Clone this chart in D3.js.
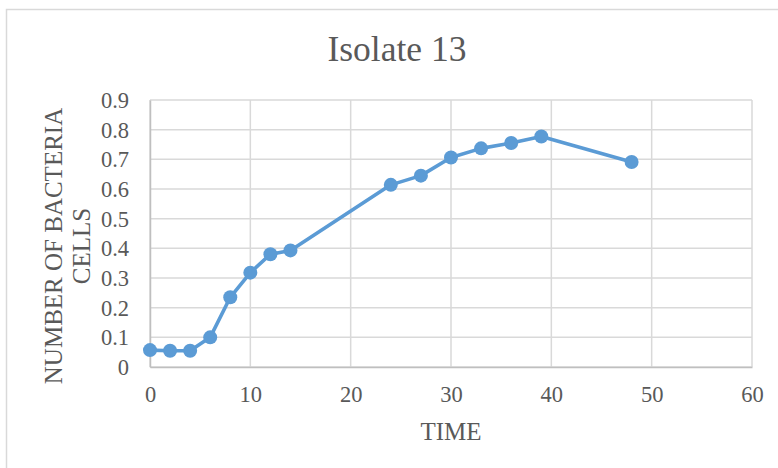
<!DOCTYPE html>
<html>
<head>
<meta charset="utf-8">
<script src="https://cdn.jsdelivr.net/npm/d3@7"></script>
<style>
  html, body { margin: 0; padding: 0; background: #fff; }
  svg { display: block; }
  text { font-family: "Liberation Serif", "Times New Roman", serif; fill: #595959; }
</style>
</head>
<body>
<svg id="chart" width="778" height="468"></svg>
<script>
// Growth readings for isolate 13
const timePoints = [0, 2, 4, 6, 8, 10, 12, 14, 24, 27, 30, 33, 36, 39, 48];
const cellCounts = [0.057, 0.055, 0.055, 0.10, 0.235, 0.318, 0.38, 0.393, 0.614, 0.645, 0.706, 0.737, 0.755, 0.777, 0.691];
const xTicks = [0, 10, 20, 30, 40, 50, 60];
const yTicks = [0, 0.1, 0.2, 0.3, 0.4, 0.5, 0.6, 0.7, 0.8, 0.9];

const chartTitle = "Isolate 13";
const xTitle = "TIME";
const yTitleLines = ["NUMBER OF BACTERIA", "CELLS"];

const svg = d3.select("#chart");
const W = 778, H = 468;
const plot = { left: 150, right: 752, top: 100, bottom: 367 };

// Outer chart frame
svg.append("rect")
  .attr("x", 6.5).attr("y", 9.5)
  .attr("width", W + 10).attr("height", H + 10)
  .attr("fill", "#fff")
  .attr("stroke", "#d9d9d9")
  .attr("stroke-width", 1.5);

const x = d3.scaleLinear().domain([0, 60]).range([plot.left, plot.right]);
const y = d3.scaleLinear().domain([0, 0.9]).range([plot.bottom, plot.top]);

// Gridlines
const grid = svg.append("g");
grid.selectAll("line.h").data(yTicks).join("line")
  .attr("class", "h")
  .attr("x1", plot.left).attr("x2", plot.right)
  .attr("y1", d => y(d)).attr("y2", d => y(d))
  .attr("stroke", "#d9d9d9").attr("stroke-width", 1.5);
grid.selectAll("line.v").data(xTicks).join("line")
  .attr("class", "v")
  .attr("y1", plot.top).attr("y2", plot.bottom)
  .attr("x1", d => x(d)).attr("x2", d => x(d))
  .attr("stroke", "#d9d9d9").attr("stroke-width", 1.5);

// Axes
const xAxis = svg.append("g")
  .attr("transform", `translate(0,${plot.bottom})`)
  .call(d3.axisBottom(x).tickValues(xTicks).tickSize(0).tickPadding(0).tickFormat(d3.format("d")));
xAxis.select(".domain").attr("stroke", "#bfbfbf").attr("stroke-width", 1.5);
xAxis.selectAll("text")
  .attr("dy", null).attr("y", 35)
  .attr("font-size", 22.5)
  .attr("fill", "#595959")
  .attr("font-family", "Liberation Serif, Times New Roman, serif");

const yAxis = svg.append("g")
  .attr("transform", `translate(${plot.left},0)`)
  .call(d3.axisLeft(y).tickValues(yTicks).tickSize(0).tickPadding(0).tickFormat(d => d === 0 ? "0" : d3.format(".1f")(d)));
yAxis.select(".domain").attr("stroke", "#bfbfbf").attr("stroke-width", 1.5);
yAxis.selectAll("text")
  .attr("x", -21).attr("dy", "0.34em")
  .attr("font-size", 22.5)
  .attr("fill", "#595959")
  .attr("font-family", "Liberation Serif, Times New Roman, serif");

// Series line and markers
const pts = timePoints.map((t, i) => [t, cellCounts[i]]);
svg.append("path")
  .datum(pts)
  .attr("fill", "none")
  .attr("stroke", "#5b9bd5")
  .attr("stroke-width", 3.6)
  .attr("stroke-linejoin", "round")
  .attr("d", d3.line().x(d => x(d[0])).y(d => y(d[1])));
svg.append("g").selectAll("circle").data(pts).join("circle")
  .attr("cx", d => x(d[0])).attr("cy", d => y(d[1]))
  .attr("r", 7)
  .attr("fill", "#5b9bd5");

// Titles
svg.append("text")
  .attr("x", 397).attr("y", 61)
  .attr("text-anchor", "middle")
  .attr("font-size", 35.5)
  .text(chartTitle);

svg.append("text")
  .attr("x", (plot.left + plot.right) / 2).attr("y", 440)
  .attr("text-anchor", "middle")
  .attr("font-size", 25)
  .text(xTitle);

const yTitle = svg.append("text")
  .attr("transform", "translate(62,246) rotate(-90)")
  .attr("text-anchor", "middle")
  .attr("font-size", 25);
yTitle.selectAll("tspan").data(yTitleLines).join("tspan")
  .attr("x", 0)
  .attr("dy", (d, i) => i === 0 ? 0 : 28)
  .text(d => d);
</script>
</body>
</html>
